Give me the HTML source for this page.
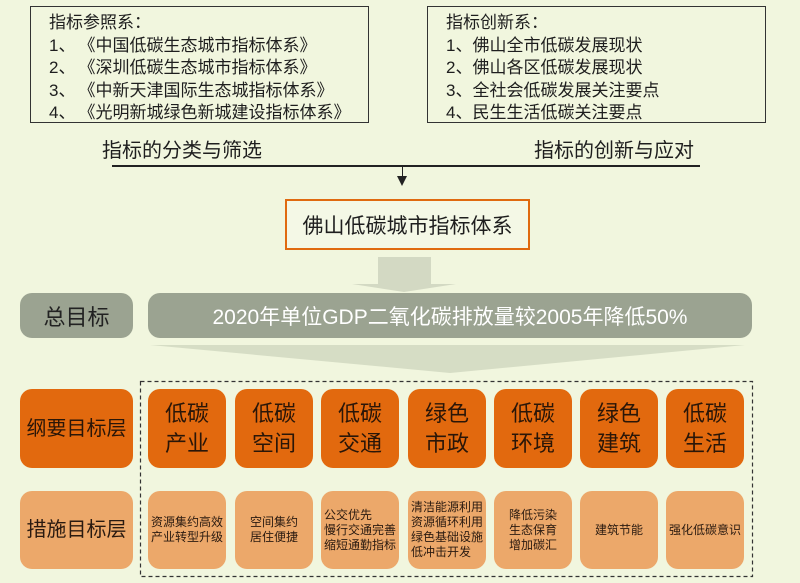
<!DOCTYPE html>
<html><head><meta charset="utf-8"><style>
body{margin:0;width:800px;height:583px;background:#f1f6de;position:relative;overflow:hidden;font-family:"Liberation Sans","Noto Sans CJK SC",sans-serif;color:#1e1e1e}
.a{position:absolute}
.tb{border:1px solid #333;box-sizing:border-box;background:#f1f6de;font-size:17px;line-height:22.5px;padding:5px 0 0 18px;white-space:nowrap}
.r{position:absolute;border-radius:12px;display:flex;align-items:center;justify-content:center;text-align:center}
.o{background:#e2690e;color:#2a1608;font-size:22px;line-height:30px}
.l{background:#eca86a;color:#2a1a10;font-size:12px;line-height:15px}
.g{background:#9ba391}
.s{display:inline-block;width:3px}
</style></head><body>
<div class="a tb" style="left:30px;top:6px;width:339px;height:117px">指标参照系：<br>1、<span class="s"></span>《中国低碳生态城市指标体系》<br>2、<span class="s"></span>《深圳低碳生态城市指标体系》<br>3、<span class="s"></span>《中新天津国际生态城指标体系》<br>4、<span class="s"></span>《光明新城绿色新城建设指标体系》</div>
<div class="a tb" style="left:427px;top:6px;width:339px;height:117px">指标创新系：<br>1、佛山全市低碳发展现状<br>2、佛山各区低碳发展现状<br>3、全社会低碳发展关注要点<br>4、民生生活低碳关注要点</div>
<div class="a" style="left:102px;top:134px;font-size:20px">指标的分类与筛选</div>
<div class="a" style="left:534px;top:134px;font-size:20px">指标的创新与应对</div>
<div class="a" style="left:112px;top:165px;width:588px;height:2px;background:#222"></div>
<div class="a" style="left:402px;top:166px;width:1px;height:16px;background:#222"></div>
<div class="a" style="left:397px;top:176px;width:0;height:0;border-left:5px solid transparent;border-right:5px solid transparent;border-top:10px solid #222"></div>
<div class="a" style="left:285px;top:199px;width:245px;height:51px;border:2px solid #e06a10;box-sizing:border-box;display:flex;align-items:center;justify-content:center;font-size:21px;background:#f4f8e6">佛山低碳城市指标体系</div>
<div class="a" style="left:378px;top:257px;width:53px;height:27px;background:#d3d9c3"></div>
<div class="a" style="left:352px;top:284px;width:0;height:0;border-left:52px solid transparent;border-right:52px solid transparent;border-top:8px solid #d3d9c3"></div>
<div class="r g" style="left:20px;top:293px;width:113px;height:45px;font-size:22px;color:#222">总目标</div>
<div class="r g" style="left:148px;top:293px;width:604px;height:45px;font-size:21px;color:#fff">2020年单位GDP二氧化碳排放量较2005年降低50%</div>
<svg class="a" style="left:0;top:0" width="800" height="583"><polygon points="150,345 745,345 450,373" fill="#d6ddc5"/><rect x="140.5" y="381.5" width="612" height="195" fill="none" stroke="#333" stroke-width="1.2" stroke-dasharray="4,3"/></svg>
<div class="r o" style="left:20px;top:389px;width:113px;height:79px;font-size:20px">纲要目标层</div>
<div class="r l" style="left:20px;top:491px;width:113px;height:78px;font-size:20px">措施目标层</div>
<div class="r o" style="left:148px;top:389px;width:78px;height:79px">低碳<br>产业</div>
<div class="r o" style="left:235px;top:389px;width:78px;height:79px">低碳<br>空间</div>
<div class="r o" style="left:321px;top:389px;width:78px;height:79px">低碳<br>交通</div>
<div class="r o" style="left:408px;top:389px;width:78px;height:79px">绿色<br>市政</div>
<div class="r o" style="left:494px;top:389px;width:78px;height:79px">低碳<br>环境</div>
<div class="r o" style="left:580px;top:389px;width:78px;height:79px">绿色<br>建筑</div>
<div class="r o" style="left:666px;top:389px;width:78px;height:79px">低碳<br>生活</div>
<div class="r l" style="left:148px;top:491px;width:78px;height:78px">资源集约高效<br>产业转型升级</div>
<div class="r l" style="left:235px;top:491px;width:78px;height:78px">空间集约<br>居住便捷</div>
<div class="r l" style="left:321px;top:491px;width:78px;height:78px;text-align:left">公交优先<br>慢行交通完善<br>缩短通勤指标</div>
<div class="r l" style="left:408px;top:491px;width:78px;height:78px;text-align:left">清洁能源利用<br>资源循环利用<br>绿色基础设施<br>低冲击开发</div>
<div class="r l" style="left:494px;top:491px;width:78px;height:78px;text-align:left">降低污染<br>生态保育<br>增加碳汇</div>
<div class="r l" style="left:580px;top:491px;width:78px;height:78px">建筑节能</div>
<div class="r l" style="left:666px;top:491px;width:78px;height:78px">强化低碳意识</div>
</body></html>
